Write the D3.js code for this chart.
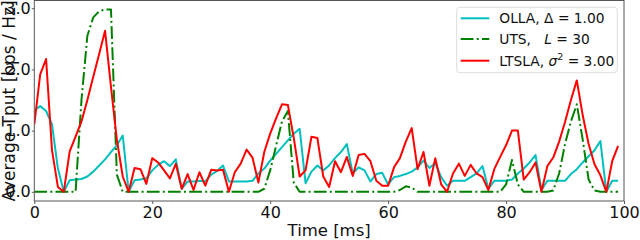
<!DOCTYPE html>
<html>
<head>
<meta charset="utf-8">
<script src="https://cdn.jsdelivr.net/npm/d3@7"></script>
<style>
  body { margin: 0; background: #fff; }
  svg { display: block; font-family: "DejaVu Sans", sans-serif; }
</style>
</head>
<body>
<div id="chart"></div>
<script>
// time axis in ms (one sample per ms)
const timeMs = d3.range(100);

const olla = [1.33,1.40,1.32,1.10,0.38,0,0.19,0.20,0.21,0.25,
  0.33,0.43,0.53,0.65,0.76,0.92,0,0.19,0.20,0.22,
  0.35,0.44,0.50,0.42,0.53,0.05,0.17,0.17,0.18,0.17,
  0.28,0.34,0.43,0.17,0.17,0.17,0.17,0.18,0.30,0.38,
  0.51,0.62,0.73,0.84,0.95,1.03,0.14,0.33,0.43,0.35,
  0.43,0.55,0.65,0.78,0.30,0.40,0.35,0.17,0.29,0.31,
  0.12,0.24,0.26,0.29,0.33,0.40,0.51,0.39,0.47,0.24,
  0.10,0.18,0.18,0.18,0.24,0.30,0.42,0.05,0.18,0.18,
  0.18,0.20,0.30,0.38,0.48,0.60,0.03,0.18,0.18,0.18,
  0.18,0.29,0.37,0.48,0.58,0.68,0.83,0,0.18,0.18];

const uts = [0,0,0,0,0,0,0,0,1.50,2.55,
  2.85,2.95,2.98,2.98,0.28,0,0,0,0,0,
  0,0,0,0,0,0,0,0,0,0,
  0,0,0,0,0,0,0,0,0,0.05,
  0.35,0.75,1.15,1.32,0.15,0,0,0,0,0,
  0,0,0,0,0,0,0,0,0,0,
  0,0,0.03,0.09,0.07,0,0,0,0,0,
  0,0,0,0,0,0,0,0,0,0,
  0.12,0.52,0.12,0,0,0,0,0,0.02,0.30,
  0.78,1.15,1.43,0.85,0.20,0.02,0,0,0,0];

const ltsla = [1.10,1.92,2.17,0.68,0.08,0,0.66,0.90,1.15,1.50,
  1.88,2.25,2.63,1.72,0.85,0.25,0,0.39,0.37,0.13,
  0.55,0.48,0.35,0.22,0.46,0.05,0.29,0.03,0.32,0.10,
  0.36,0.35,0.36,0,0.32,0.46,0.69,0.56,0.15,0.65,
  0.95,1.20,1.43,1.42,0.88,0.25,0.35,0.90,0.88,0.25,
  0.08,0.50,0.32,0.57,0.26,0.60,0.62,0.50,0.18,0.10,
  0.10,0.40,0.55,0.82,1.04,0.37,0.65,0.10,0.55,0.12,
  0,0.30,0.46,0.26,0.44,0.30,0.24,0.03,0.37,0.57,
  0.76,1.00,1.00,0.20,0.32,0.48,0,0.42,0.56,0.82,
  1.14,1.50,1.82,1.25,0.78,0.45,0.27,0,0.50,0.75];

const xTicks = [0, 20, 40, 60, 80, 100];
const yTicks = [0, 1, 2, 3];

const series = [
  { name: "olla", values: olla, color: "#00bfbf", dash: null },
  { name: "uts", values: uts, color: "#008000", dash: "12.8,3.2,2,3.2" },
  { name: "ltsla", values: ltsla, color: "#ff0000", dash: null }
];

const width = 640, height = 240;
const margin = { top: -1, right: 16, bottom: 39, left: 34.3 };

const svg = d3.select("#chart").append("svg")
  .attr("width", width)
  .attr("height", height);

const x = d3.scaleLinear().domain([0, 100]).range([margin.left, width - margin.right]);
const y = d3.scaleLinear().domain([-0.15, 3.15]).range([height - margin.bottom, margin.top]);

svg.append("clipPath").attr("id", "clip")
  .append("rect")
  .attr("x", x(0)).attr("y", y(3.15))
  .attr("width", x(100) - x(0)).attr("height", y(-0.15) - y(3.15));

const line = d3.line()
  .x((d, i) => x(timeMs[i]))
  .y(d => y(d));

const plot = svg.append("g").attr("clip-path", "url(#clip)");
series.forEach(s => {
  plot.append("path")
    .datum(s.values)
    .attr("fill", "none")
    .attr("stroke", s.color)
    .attr("stroke-width", 2)
    .attr("stroke-dasharray", s.dash)
    .attr("stroke-linejoin", "round")
    .attr("d", line);
});

// axes
const xAxis = svg.append("g")
  .attr("transform", `translate(0,${y(-0.15)})`)
  .call(d3.axisBottom(x).tickValues(xTicks).tickSize(3).tickPadding(3));
const yAxis = svg.append("g")
  .attr("transform", `translate(${x(0)},0)`)
  .call(d3.axisLeft(y).tickValues(yTicks).tickSize(2.5).tickPadding(1));

[xAxis, yAxis].forEach(a => {
  a.select(".domain").remove();
  a.selectAll("line").attr("stroke", "#333").attr("stroke-width", 0.8);
  a.selectAll("text").attr("font-size", 16).attr("fill", "#111")
    .attr("font-family", "DejaVu Sans");
});

// frame
svg.append("rect")
  .attr("x", x(0)).attr("y", 0.5)
  .attr("width", x(100) - x(0)).attr("height", y(-0.15) - 0.5)
  .attr("fill", "none").attr("stroke", "#555").attr("stroke-width", 1);

// axis titles
svg.append("text")
  .attr("x", (x(0) + x(100)) / 2).attr("y", 236)
  .attr("text-anchor", "middle").attr("font-size", 16.5).attr("fill", "#111")
  .text("Time [ms]");

svg.append("text")
  .attr("transform", `translate(14.5,101) rotate(-90)`)
  .attr("text-anchor", "middle").attr("font-size", 17).attr("fill", "#111")
  .text("Average Tput [bps / Hz]");

// legend
const legend = svg.append("g");
legend.append("rect")
  .attr("x", 456.7).attr("y", 7.3).attr("width", 160.6).attr("height", 65.4)
  .attr("rx", 3).attr("fill", "#fff").attr("fill-opacity", 0.8)
  .attr("stroke", "#ddd").attr("stroke-width", 1);

const rows = [18.3, 39, 60.7];
series.forEach((s, i) => {
  legend.append("line")
    .attr("x1", 460.7).attr("x2", 489.3)
    .attr("y1", rows[i]).attr("y2", rows[i])
    .attr("stroke", s.color).attr("stroke-width", 2)
    .attr("stroke-dasharray", s.dash);
});

const lt = (i) => legend.append("text")
  .attr("x", 499.3).attr("y", rows[i] + 5)
  .attr("font-size", 13.8).attr("fill", "#111")
  .attr("xml:space", "preserve").style("white-space", "pre");

lt(0).text("OLLA, \u0394 = 1.00");

const t1 = lt(1);
t1.append("tspan").text("UTS,   ");
t1.append("tspan").attr("font-style", "italic").text("L");
t1.append("tspan").text(" = 30");

const t2 = lt(2);
t2.append("tspan").text("LTSLA, ");
t2.append("tspan").attr("font-style", "italic").text("\u03c3");
t2.append("tspan").attr("font-size", 9.5).attr("dy", -6).text("2");
t2.append("tspan").attr("dy", 6).text(" = 3.00");
</script>
</body>
</html>
